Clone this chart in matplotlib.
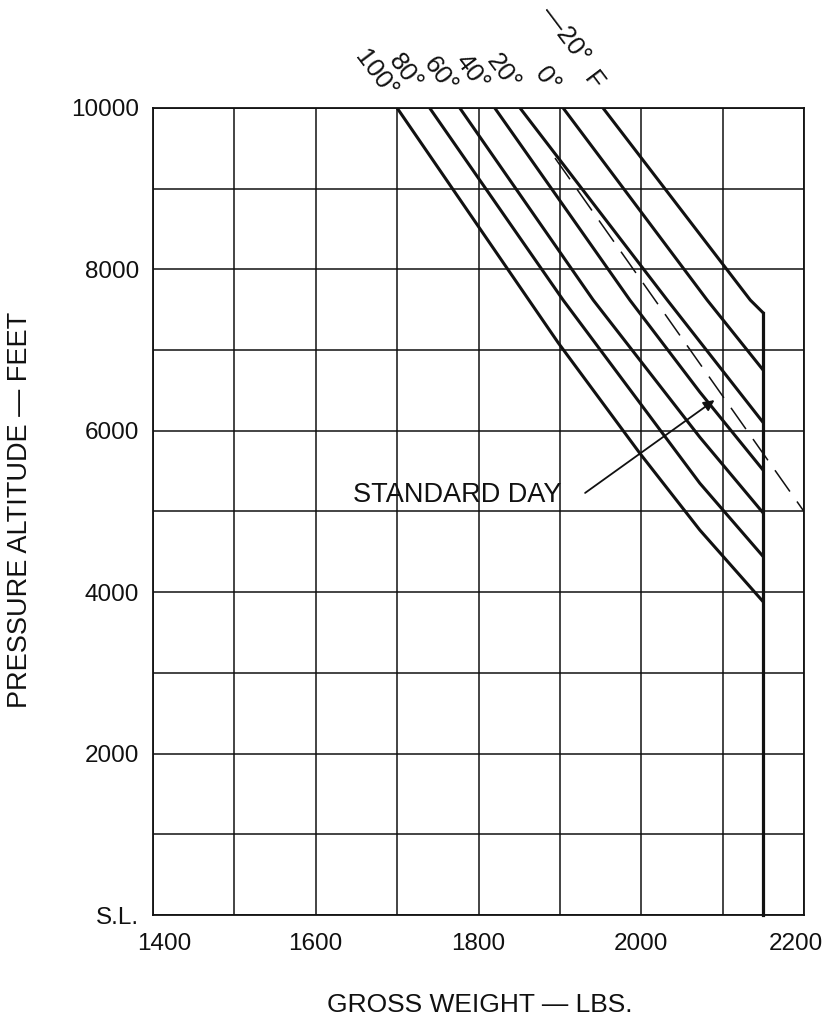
import matplotlib
matplotlib.use("Agg")
import matplotlib.pyplot as plt
import matplotlib.transforms as mtransforms
import numpy as np

plt.rcParams['font.family'] = ['Liberation Sans', 'DejaVu Sans']

# ---------------- data ----------------
temp_labels = ["100°", "80°", "60°", "40°", "20°", "0°", "—20°"]
w_100 = [1700, 1898, 1998, 2072, 2150]
a_100 = [10000, 7090, 5725, 4770, 3880]
w_80 = [1740, 1904, 2072, 2150]
a_80 = [10000, 7620, 5350, 4440]
w_60 = [1777, 1941, 2072, 2150]
a_60 = [10000, 7620, 5920, 4980]
w_40 = [1820, 1986, 2072, 2150]
a_40 = [10000, 7620, 6480, 5510]
w_20 = [1851, 2032, 2150]
a_20 = [10000, 7620, 6100]
w_0 = [1904, 2081, 2150]
a_0 = [10000, 7620, 6750]
w_m20 = [1953, 2134, 2150]
a_m20 = [10000, 7620, 7460]

limit_weight = [2150, 2150]
limit_alt = [7460, 0]

std_day_w = [1894, 2200]
std_day_a = [9380, 5000]

x_ticks = [1400, 1600, 1800, 2000, 2200]
x_tick_labels = ["1400", "1600", "1800", "2000", "2200"]
y_ticks = [0, 2000, 4000, 6000, 8000, 10000]
y_tick_labels = ["S.L.", "2000", "4000", "6000", "8000", "10000"]

# ---------------- figure ----------------
W, H = 834, 1022
fig = plt.figure(figsize=(W / 100, H / 100), dpi=100)
ax = fig.add_axes([153 / W, 1 - 915 / H, (804 - 153) / W, (915 - 108) / H])
ax.set_xlim(1400, 2200)
ax.set_ylim(0, 10000)

ink = "#111111"
ax.set_xticks(x_ticks)
ax.set_xticklabels(x_tick_labels)
ax.set_yticks(y_ticks)
ax.set_yticklabels(y_tick_labels)
ax.set_xticks(np.arange(1400, 2201, 100), minor=True)
ax.set_yticks(np.arange(0, 10001, 1000), minor=True)
ax.tick_params(which='both', length=0, labelsize=17.5, colors=ink)
ax.tick_params(axis='x', pad=13)
ax.tick_params(axis='y', pad=10)
ax.grid(which='both', color=ink, linewidth=1.1)
ax.set_axisbelow(True)
for s in ax.spines.values():
    s.set_color(ink)
    s.set_linewidth(1.3)

# nudge the two end x tick labels inward as in the original print
xl = ax.get_xticklabels()
xl[0].set_transform(xl[0].get_transform() + mtransforms.ScaledTranslation(11 / 100, 0, fig.dpi_scale_trans))
xl[-1].set_transform(xl[-1].get_transform() + mtransforms.ScaledTranslation(-8 / 100, 0, fig.dpi_scale_trans))

lines = [(w_100, a_100), (w_80, a_80), (w_60, a_60), (w_40, a_40),
         (w_20, a_20), (w_0, a_0), (w_m20, a_m20)]
for w, a in lines:
    ax.plot(w, a, color=ink, linewidth=2.2, solid_capstyle='butt', zorder=3)

ax.plot(limit_weight, limit_alt, color=ink, linewidth=2.3, zorder=3, clip_on=False)

ax.plot(std_day_w, std_day_a, color=ink, linewidth=1.1, dashes=(17, 8), zorder=3)

ax.annotate("", xy=(2090, 6380), xytext=(1931, 5230),
            arrowprops=dict(arrowstyle='-|>', color=ink, lw=1.3, mutation_scale=16,
                            shrinkA=0, shrinkB=0), zorder=4)
ax.text(1646, 5204, "STANDARD DAY", fontsize=19.5, color=ink, ha='left', va='center', zorder=4)

# temperature labels above the plot
label_pos = [(1674, 10421), (1710, 10446), (1753, 10409), (1792, 10446),
             (1830, 10446), (1884, 10347), (1906, 10905)]
for lab, (x, y) in zip(temp_labels, label_pos):
    ax.text(x, y, lab, fontsize=18.5, color=ink, rotation=-53, rotation_mode='anchor',
            ha='center', va='center', clip_on=False)
ax.text(1941, 10335, "F", fontsize=18.5, color=ink, rotation=-53, rotation_mode='anchor',
        ha='center', va='center', clip_on=False)

fig.text(480 / W, 1 - 1005 / H, "GROSS WEIGHT — LBS.", fontsize=19, color=ink,
         ha='center', va='center')
fig.text(20 / W, 1 - 510 / H, "PRESSURE ALTITUDE — FEET", fontsize=19.5, color=ink,
         ha='center', va='center', rotation=90)

fig.savefig("out.png", dpi=100)
